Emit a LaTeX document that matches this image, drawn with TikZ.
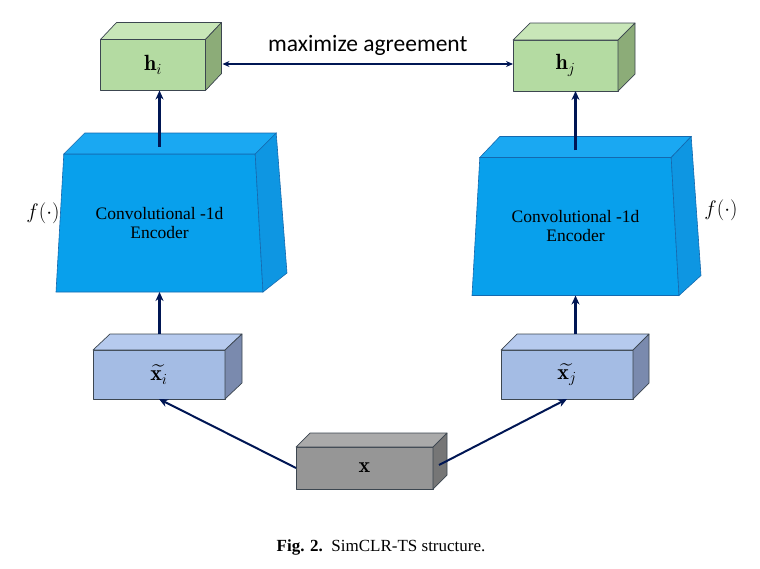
\RequirePackage{fix-cm}
\documentclass[tikz,border=0pt]{standalone}
\usepackage{amsmath, amssymb}
\usepackage{fontspec}
\newfontfamily\calfont{Carlito}
\newfontfamily\timesfont{Liberation Serif}
\usetikzlibrary{arrows.meta,calc,shapes.geometric}

\definecolor{navy}{RGB}{0,22,84}
\definecolor{edge}{RGB}{60,70,80}
\definecolor{hfront}{RGB}{180,219,162}
\definecolor{htop}{RGB}{200,230,184}
\definecolor{hside}{RGB}{140,172,120}
\definecolor{efront}{RGB}{8,160,236}
\definecolor{etop}{RGB}{26,168,242}
\definecolor{eside}{RGB}{14,150,226}
\definecolor{eedge}{RGB}{20,105,175}
\definecolor{xfront}{RGB}{164,188,228}
\definecolor{xtop}{RGB}{182,202,238}
\definecolor{xside}{RGB}{122,138,174}
\definecolor{gfront}{RGB}{150,150,150}
\definecolor{gtop}{RGB}{170,170,170}
\definecolor{gside}{RGB}{118,118,118}

\tikzset{
  cubeface/.style={draw=edge, line width=.7pt, line join=round, inner sep=0pt, outer sep=0pt},
  hbox/.style={cubeface, fill=hfront, minimum width=105pt, minimum height=51pt, font=\fontsize{22}{24}\selectfont},
  xbox/.style={cubeface, fill=xfront, minimum width=132pt, minimum height=49pt, font=\fontsize{22}{24}\selectfont},
  gbox/.style={cubeface, fill=gfront, minimum width=137pt, minimum height=42pt, font=\fontsize{22}{24}\selectfont},
  encoder/.style={trapezium, trapezium left angle=76, trapezium right angle=76, trapezium stretches body,
    draw=eedge, line width=.6pt, fill=efront, minimum width=207pt, minimum height=138pt,
    inner sep=0pt, outer sep=0pt, align=center, font=\timesfont\fontsize{17.5}{19}\selectfont},
  arr/.style={draw=navy, line width=2.4pt, -{Stealth[length=9pt,width=8pt]}},
}

\begin{document}
\begin{tikzpicture}[x=1pt,y=-1pt]
\useasboundingbox (0,0) rectangle (760,568);

% encoders
\node[encoder] (encL) at (159.5,223) {Convolutional -1d\\Encoder};
\node[encoder] (encR) at (575.5,226.5) {Convolutional -1d\\Encoder};
\draw[draw=eedge, line width=.6pt, fill=etop] (encL.top left corner) -- ++(21,-21) -- ($(encL.top right corner)+(21,-21)$) -- (encL.top right corner) -- cycle;
\draw[draw=eedge, line width=.6pt, fill=eside] (encL.top right corner) -- ++(21,-21) -- ($(encL.bottom right corner)+(24,-19)$) -- (encL.bottom right corner) -- cycle;
\draw[draw=eedge, line width=.6pt, fill=etop] (encR.top left corner) -- ++(20,-21) -- ($(encR.top right corner)+(20,-21)$) -- (encR.top right corner) -- cycle;
\draw[draw=eedge, line width=.6pt, fill=eside] (encR.top right corner) -- ++(20,-21) -- ($(encR.bottom right corner)+(22,-20)$) -- (encR.bottom right corner) -- cycle;
\node[font=\fontsize{21}{24}\selectfont] (fL) at (43,213) {$f(\cdot)$};
\node[font=\fontsize{21}{24}\selectfont] (fR) at (721,210) {$f(\cdot)$};

% projections
\node[hbox] (hi) at (153,65) {$\mathbf{h}_i$};
\node[hbox] (hj) at (565.5,65.5) {$\mathbf{h}_j$};
\draw[cubeface, fill=htop] (hi.north west) -- ++(16,-17) -- ($(hi.north east)+(16,-17)$) -- (hi.north east) -- cycle;
\draw[cubeface, fill=hside] (hi.north east) -- ++(16,-17) -- ($(hi.south east)+(16,-17)$) -- (hi.south east) -- cycle;
\draw[cubeface, fill=htop] (hj.north west) -- ++(17,-17) -- ($(hj.north east)+(17,-17)$) -- (hj.north east) -- cycle;
\draw[cubeface, fill=hside] (hj.north east) -- ++(17,-17) -- ($(hj.south east)+(17,-17)$) -- (hj.south east) -- cycle;

% augmented views
\node[xbox] (xi) at (159,374.5) {$\widetilde{\mathbf{x}_i}$};
\node[xbox] (xj) at (567,374.5) {$\widetilde{\mathbf{x}_j}$};
\draw[cubeface, fill=xtop] (xi.north west) -- ++(17,-16) -- ($(xi.north east)+(17,-16)$) -- (xi.north east) -- cycle;
\draw[cubeface, fill=xside] (xi.north east) -- ++(17,-16) -- ($(xi.south east)+(17,-16)$) -- (xi.south east) -- cycle;
\draw[cubeface, fill=xtop] (xj.north west) -- ++(16,-16) -- ($(xj.north east)+(16,-16)$) -- (xj.north east) -- cycle;
\draw[cubeface, fill=xside] (xj.north east) -- ++(16,-16) -- ($(xj.south east)+(16,-16)$) -- (xj.south east) -- cycle;

% input
\node[gbox] (X) at (364.5,468) {$\mathbf{x}$};
\draw[cubeface, fill=gtop] (X.north west) -- ++(14,-14) -- ($(X.north east)+(14,-14)$) -- (X.north east) -- cycle;
\draw[cubeface, fill=gside] (X.north east) -- ++(14,-14) -- ($(X.south east)+(14,-14)$) -- (X.south east) -- cycle;

% connectors
\coordinate (xiback) at ($(xi.north)+(0,-16)$);
\coordinate (xjback) at ($(xj.north)+(0,-16)$);
\coordinate (eLtop) at ($(encL.north)+(0,-7)$);
\coordinate (eRtop) at ($(encR.north)+(0,-7)$);
\coordinate (hiside) at ($(hi.east)+(17,-1)$);
\coordinate (Xside) at ($(X.east)+(6,-3)$);
\draw[arr] (encL.south |- xiback) -- (encL.south);
\draw[arr] (encR.south |- xjback) -- (encR.south);
\draw[arr] (eLtop) -- (eLtop |- hi.south);
\draw[arr] (eRtop) -- (eRtop |- hj.south);
\draw[arr, line width=2pt] (X.west) -- (xi.south);
\draw[arr, line width=2pt] (Xside) -- (xj.south);
\draw[draw=navy, line width=1.6pt, {Stealth[length=7pt,width=6pt]}-{Stealth[length=7pt,width=6pt]}] (hiside) -- (hiside -| hj.west)
  node[midway, above=4pt, text=black, font=\calfont\fontsize{23.5}{26}\selectfont] (agree) {maximize agreement};

\node[font=\timesfont\fontsize{17}{20}\selectfont] (cap) at (381,547) {\textbf{Fig. 2.}\ \ SimCLR-TS structure.};
\end{tikzpicture}
\end{document}
